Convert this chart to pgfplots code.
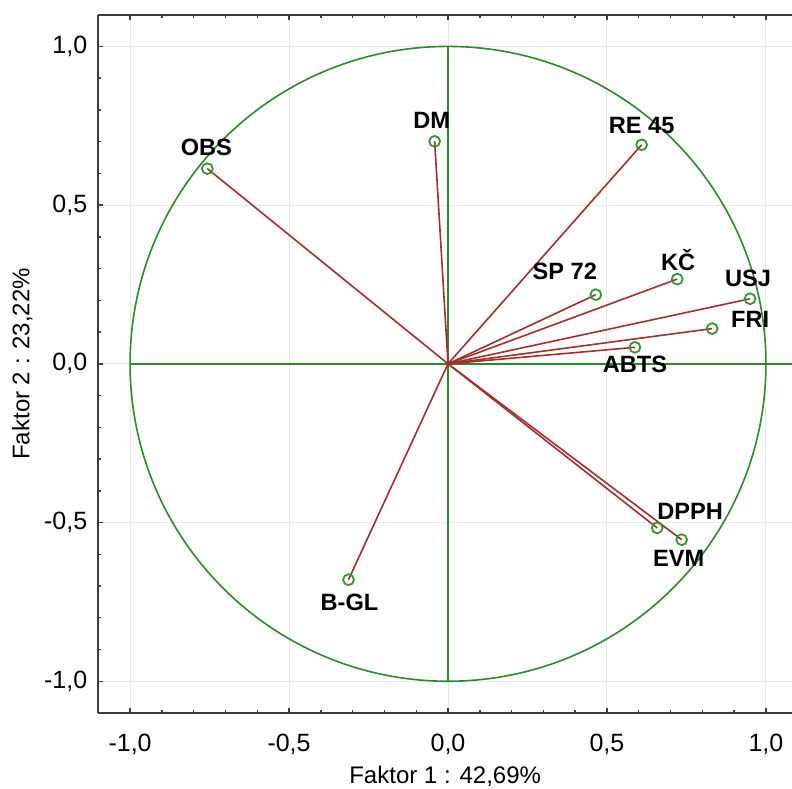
\documentclass[border=0pt]{standalone}
\usepackage{fontspec}
\setmainfont{Liberation Sans}
\usepackage{pgfplots}
\usepackage{pgfplotstable}
\pgfplotsset{compat=1.18}
\definecolor{vecred}{RGB}{165,45,45}
\definecolor{refgreen}{RGB}{40,140,40}
\definecolor{mkgreen}{RGB}{50,150,50}
\definecolor{axgray}{RGB}{60,60,60}
\pgfplotstableread[col sep=comma]{
name,x,y,dx,dy
OBS,-0.757,0.615,-0.5,10.5
DM,-0.042,0.701,-1.5,10.5
RE 45,0.609,0.690,0,9.5
SP 72,0.465,0.218,-15.5,11.5
KČ,0.721,0.267,0.5,9.5
USJ,0.950,0.205,-1,10
FRI,0.831,0.111,19,4.5
ABTS,0.588,0.052,0,-8.5
DPPH,0.658,-0.517,16.5,8.5
EVM,0.735,-0.554,-1.5,-9.5
B-GL,-0.313,-0.680,0.5,-11.5
}\loadings
\begin{document}
\begin{tikzpicture}
\begin{axis}[
  name=ax,
  scale only axis,
  width=346.85pt, height=349.15pt,
  xmin=-1.1, xmax=1.082, ymin=-1.1, ymax=1.1,
  axis x line=box, axis y line=left,
  axis line style={-, axgray, line width=0.9pt},
  xtick={-1,-0.5,0,0.5,1}, ytick={-1,-0.5,0,0.5,1},
  minor tick num=4,
  tick align=inside,
  major tick length=2.5pt, minor tick length=1.5pt,
  tick style={axgray, line width=0.7pt},
  grid=major,
  major grid style={gray!18, line width=0.5pt},
  ticklabel style={font=\fontsize{12.5}{14}\selectfont,
    /pgf/number format/fixed, /pgf/number format/fixed zerofill,
    /pgf/number format/precision=1, /pgf/number format/use comma,
    /pgf/number format/assume math mode=true},
  xticklabel style={yshift=-7pt},
  yticklabel style={xshift=-2pt},
  xlabel={Faktor 1 : 42,69\%},
  ylabel={Faktor 2 : 23,22\%},
  label style={font=\fontsize{12}{14}\selectfont},
  xlabel style={at={(axis description cs:0.5,-0.0902)}, anchor=center},
  ylabel style={at={(axis description cs:-0.1096,0.5)}, anchor=center, rotate=0},
  clip=false,
]
\draw[refgreen, line width=0.8pt] (axis cs:0,0) ellipse [x radius=1, y radius=1];
\addplot[refgreen, line width=0.8pt] coordinates {(-1,0) (1.082,0)};
\addplot[refgreen, line width=0.8pt] coordinates {(0,-1) (0,1)};
\addplot[vecred, line width=0.8pt, quiver={u=\thisrow{x}, v=\thisrow{y}}]
  table[x expr=0, y expr=0] {\loadings};
\addplot[only marks, mark=o, mark size=2.7pt,
  mark options={mkgreen, line width=0.9pt, fill=none},
  nodes near coords, point meta=explicit symbolic,
  visualization depends on={\thisrow{dx}\as\ldx},
  visualization depends on={\thisrow{dy}\as\ldy},
  every node near coord/.append style={anchor=center, xshift=\ldx pt, yshift=\ldy pt,
    font=\bfseries\fontsize{11.8}{13}\selectfont, text=black, inner sep=0pt}]
  table[x=x, y=y, meta=name] {\loadings};
\end{axis}
\pgfresetboundingbox
\path[use as bounding box] ([xshift=-49.15pt,yshift=-38pt]ax.south west) rectangle ([yshift=7.35pt]ax.north east);
\end{tikzpicture}
\end{document}
